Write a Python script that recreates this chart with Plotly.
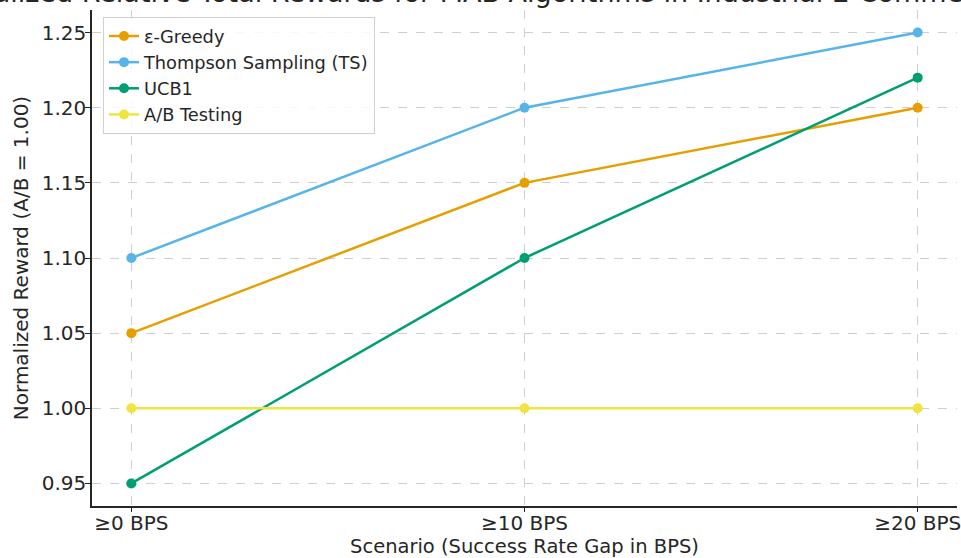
import plotly.graph_objects as go

scenarios = ["≥0 BPS", "≥10 BPS", "≥20 BPS"]
eps_greedy = [1.05, 1.15, 1.20]
thompson = [1.10, 1.20, 1.25]
ucb1 = [0.95, 1.10, 1.22]
ab_testing = [1.00, 1.00, 1.00]

series_names = ["ε-Greedy", "Thompson Sampling (TS)", "UCB1", "A/B Testing"]
series_values = [eps_greedy, thompson, ucb1, ab_testing]
colors = ["#E69F00", "#56B4E9", "#009E73", "#F0E442"]

title_text = "Normalized Relative Total Rewards for MAB Algorithms in Industrial E-Commerce"

FONT = "DejaVu Sans"
fig = go.Figure()
for name, vals, col in zip(series_names, series_values, colors):
    fig.add_trace(go.Scatter(
        x=list(range(len(scenarios))), y=vals, name=name, mode="lines+markers",
        line=dict(color=col, width=2.5), marker=dict(color=col, size=10),
    ))

fig.update_layout(
    width=961, height=558,
    margin=dict(l=92, r=4, t=10, b=52),
    paper_bgcolor="white", plot_bgcolor="white",
    font=dict(family=FONT, size=20, color="#262626"),
    showlegend=True,
    legend=dict(x=0.0127, y=0.986, xanchor="left", yanchor="top",
                bgcolor="rgba(255,255,255,0.85)", bordercolor="#d0d0d0", borderwidth=1,
                font=dict(size=17.8, color="#262626"), tracegroupgap=0, itemwidth=30),
    xaxis=dict(
        range=[-0.1, 2.1], tickmode="array", tickvals=list(range(len(scenarios))),
        ticktext=scenarios, showgrid=True, gridcolor="#cfcfcf", griddash="dash", gridwidth=1,
        showline=True, linecolor="#262626", linewidth=1.5, ticks="outside", ticklen=4,
        tickcolor="#262626", zeroline=False, automargin=False, ticklabeloverflow="allow",
        ticklabelstandoff=-6,
        title=dict(text="Scenario (Success Rate Gap in BPS)", standoff=7, font=dict(size=19.5)),
    ),
    yaxis=dict(
        range=[0.935, 1.265], tickmode="array",
        tickvals=[0.95, 1.00, 1.05, 1.10, 1.15, 1.20, 1.25], tickformat=".2f",
        showgrid=True, gridcolor="#cfcfcf", griddash="dash", gridwidth=1,
        showline=True, linecolor="#262626", linewidth=1.5, ticks="outside", ticklen=5,
        tickcolor="#262626", zeroline=False, automargin=False, ticklabelstandoff=-5,
        title=dict(text="Normalized Reward (A/B = 1.00)", standoff=8, font=dict(size=20)),
    ),
    annotations=[dict(text=title_text, xref="paper", yref="paper", x=0.428, y=1.0,
                      xanchor="center", yanchor="bottom", yshift=0, showarrow=False,
                      font=dict(size=27, color="#262626", family=FONT))],
)

fig.write_html("out.html", post_script="document.body.style.margin='0';",
               config={"displayModeBar": False})
